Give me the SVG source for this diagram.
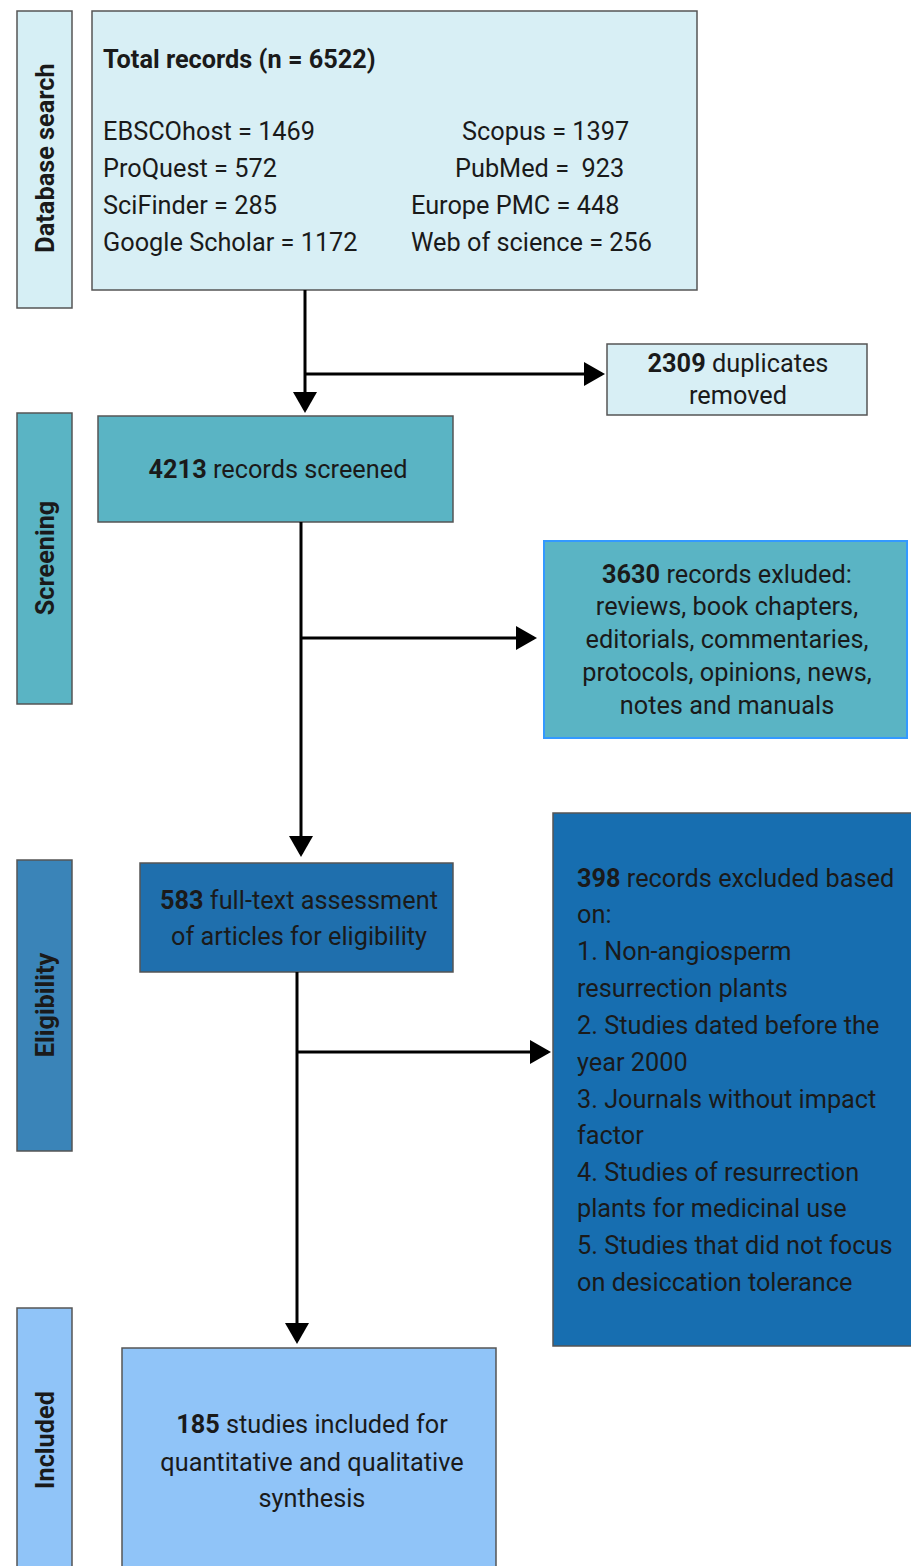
<svg xmlns="http://www.w3.org/2000/svg" width="911" height="1566" viewBox="0 0 911 1566">
<style>
text{font-family:Roboto,"Liberation Sans",sans-serif;font-size:25.3px;fill:#1a1a1a}
.b{font-weight:bold}
.c{text-anchor:middle}
.lab{font-weight:bold;text-anchor:middle}
.box{stroke:#555;stroke-width:1.5}
.conn{stroke:#000;stroke-width:3;fill:none}
</style>
<defs>
<marker id="ah" markerWidth="7" markerHeight="8" refX="6" refY="4" orient="auto" markerUnits="strokeWidth">
<path d="M0,0 L7,4 L0,8 Z" fill="#000"/>
</marker>
</defs>
<rect width="911" height="1566" fill="#fff"/>
<g id="lab-db"><rect class="box" x="17" y="11" width="55" height="297" fill="#d6eff5"/><text class="lab" transform="translate(54,158) rotate(-90)">Database search</text></g>
<g id="lab-scr"><rect class="box" x="17" y="413" width="55" height="291" fill="#5ab4c4"/><text class="lab" transform="translate(54,558) rotate(-90)">Screening</text></g>
<g id="lab-eli"><rect class="box" x="17" y="860" width="55" height="291" fill="#3a84b8"/><text class="lab" transform="translate(54,1005) rotate(-90)">Eligibility</text></g>
<g id="lab-inc"><rect class="box" x="17" y="1308" width="55" height="270" fill="#90c4f8"/><text class="lab" transform="translate(54,1440) rotate(-90)">Included</text></g>

<g id="n-total"><rect class="box" x="92" y="11" width="605" height="279" fill="#d8eff5"/>
<text class="b" x="103" y="68">Total records (n = 6522)</text>
<text x="103" y="140">EBSCOhost = 1469</text>
<text x="103" y="177">ProQuest = 572</text>
<text x="103" y="214">SciFinder = 285</text>
<text x="103" y="251">Google Scholar = 1172</text>
<text x="462" y="140">Scopus = 1397</text>
<text x="455" y="177" xml:space="preserve">PubMed =  923</text>
<text x="411" y="214">Europe PMC = 448</text>
<text x="411" y="251">Web of science = 256</text>
</g>
<g id="n-dup"><rect class="box" x="607" y="344" width="260" height="71" fill="#d8eff5"/>
<text class="c" x="738" y="372"><tspan class="b">2309</tspan> duplicates</text>
<text class="c" x="738" y="404">removed</text></g>
<g id="n-scr"><rect class="box" x="98" y="416" width="355" height="106" fill="#5ab4c4"/>
<text class="c" x="278" y="478"><tspan class="b">4213</tspan> records screened</text></g>
<g id="n-exc1"><rect x="544" y="541" width="363" height="197" fill="#5ab4c4" stroke="#3399ff" stroke-width="2"/>
<text class="c" x="727" y="583"><tspan class="b">3630</tspan> records exluded:</text>
<text class="c" x="727" y="615">reviews, book chapters,</text>
<text class="c" x="727" y="648">editorials, commentaries,</text>
<text class="c" x="727" y="681">protocols, opinions, news,</text>
<text class="c" x="727" y="714">notes and manuals</text></g>
<g id="n-full"><rect class="box" x="140" y="863" width="313" height="109" fill="#1f6fad"/>
<text class="c" x="299" y="909"><tspan class="b">583</tspan> full-text assessment</text>
<text class="c" x="299" y="945">of articles for eligibility</text></g>
<g id="n-exc2"><rect class="box" x="553" y="813" width="370" height="533" fill="#176eb0"/>
<text x="577" y="887"><tspan class="b">398</tspan> records excluded based</text>
<text x="577" y="923">on:</text>
<text x="577" y="960">1. Non-angiosperm</text>
<text x="577" y="997">resurrection plants</text>
<text x="577" y="1034">2. Studies dated before the</text>
<text x="577" y="1071">year 2000</text>
<text x="577" y="1108">3. Journals without impact</text>
<text x="577" y="1144">factor</text>
<text x="577" y="1181">4. Studies of resurrection</text>
<text x="577" y="1217">plants for medicinal use</text>
<text x="577" y="1254">5. Studies that did not focus</text>
<text x="577" y="1291">on desiccation tolerance</text></g>
<g id="n-inc"><rect class="box" x="122" y="1348" width="374" height="230" fill="#90c4f8"/>
<text class="c" x="312" y="1433"><tspan class="b">185</tspan> studies included for</text>
<text class="c" x="312" y="1471">quantitative and qualitative</text>
<text class="c" x="312" y="1507">synthesis</text></g>

<g id="connectors">
<line class="conn" x1="305" y1="290" x2="305" y2="410" marker-end="url(#ah)"/>
<line class="conn" x1="305" y1="374" x2="602" y2="374" marker-end="url(#ah)"/>
<line class="conn" x1="301" y1="522" x2="301" y2="854" marker-end="url(#ah)"/>
<line class="conn" x1="301" y1="638" x2="534" y2="638" marker-end="url(#ah)"/>
<line class="conn" x1="297" y1="972" x2="297" y2="1341" marker-end="url(#ah)"/>
<line class="conn" x1="297" y1="1052" x2="548" y2="1052" marker-end="url(#ah)"/>
</g>
</svg>
